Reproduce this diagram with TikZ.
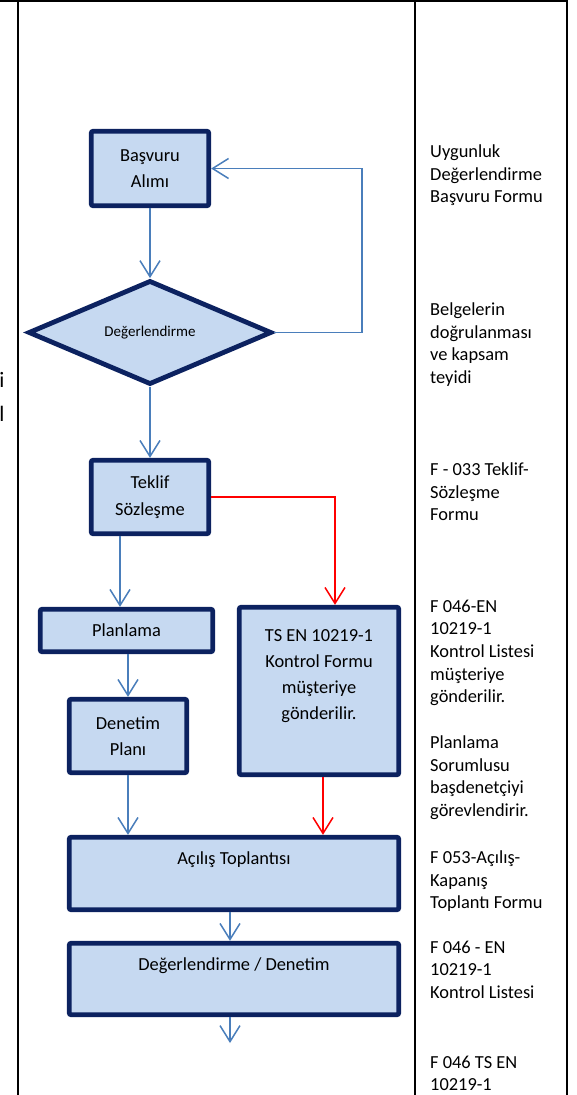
\documentclass[tikz,border=0pt]{standalone}
\usepackage{fontspec}
\setmainfont{Carlito}
\usepackage{xcolor}
\usetikzlibrary{shapes.geometric,arrows.meta,calc}
\definecolor{kenar}{HTML}{0C2260}
\definecolor{dolgu}{HTML}{C6D9F1}
\definecolor{okmavi}{HTML}{4A7EBB}
\begin{document}
\begin{tikzpicture}[x=1pt,y=-1pt,
 bx/.style={draw=kenar,line width=4.8pt,rounded corners=2pt,fill=dolgu,inner sep=0pt,align=center,font=\fontsize{18.4}{26.5}\selectfont},
 dm/.style={diamond,draw=kenar,line width=4.8pt,fill=dolgu,inner sep=0pt,font=\fontsize{15}{18}\selectfont},
 bt/.style={inner sep=0pt,align=center,font=\fontsize{18.4}{26}\selectfont},
 fl/.style={draw=okmavi,line width=1.5pt,-{Straight Barb[length=16pt,width=20pt]}},
 rf/.style={fl,draw=red},
 nt/.style={anchor=north west,inner sep=0pt,align=left,font=\fontsize{18.4}{22.7}\selectfont}]
\useasboundingbox (0,0) rectangle (576,1095);
% tablo cizgileri
\draw[line width=2pt] (0,1) -- (567,1);
\draw[line width=2pt] (18,0) -- (18,1095);
\draw[line width=2pt] (415,0) -- (415,1095);
\draw[line width=2pt] (567,0) -- (567,1095);
\node[anchor=base east,inner sep=0pt,font=\fontsize{22}{26}\selectfont] (k1) at (4.5,387) {i};
\node[anchor=base east,inner sep=0pt,font=\fontsize{22}{26}\selectfont] (k2) at (4.5,421) {l};
% akis
\node[bx,minimum width=117.5pt,minimum height=74.5pt] (basvuru) at (150,168.5) {Başvuru\\Alımı};
\node[dm,minimum width=243.5pt,minimum height=94pt] (deger) at (150,332.5) {Değerlendirme};
\node[bx,minimum width=117.5pt,minimum height=73.5pt] (teklif) at (150,497) {Teklif\\Sözleşme};
\node[bx,minimum width=172.5pt,minimum height=42.5pt] (planlama) at (126.5,630.5) {Planlama};
\node[bx,minimum width=117.5pt,minimum height=73.5pt] (denplan) at (128,736) {Denetim\\Planı};
\node[bx,minimum width=159.5pt,minimum height=167.5pt] (tsen) at (319,691) {};
\node[bt] (tsenyazi) at (319,676) {TS EN 10219-1\\Kontrol Formu\\müşteriye\\gönderilir.};
\node[bx,minimum width=329.5pt,minimum height=72.5pt] (acilis) at (234,873.5) {};
\node[bt] (acilisyazi) at (234,860) {Açılış Toplantısı};
\node[bx,minimum width=329.5pt,minimum height=71.5pt] (degden) at (234,979) {};
\node[bt] (degdenyazi) at (234,966) {Değerlendirme / Denetim};
\coordinate (t1) at ([xshift=-30pt]teklif.south);
\coordinate (t2) at ([xshift=4pt]tsen.south);
\coordinate (son) at (230,1043);
\draw[fl] (basvuru.south) -- (deger.north);
\draw[fl] (deger.east) -| ($(basvuru.east)+(151,0)$) -- (basvuru.east);
\draw[fl] (deger.south) -- (teklif.north);
\draw[fl] (t1) -- (t1 |- planlama.north);
\draw[rf] (teklif.east) -| ([xshift=16pt]tsen.north);
\draw[fl] (planlama.south -| denplan.north) -- (denplan.north);
\draw[fl] (denplan.south) -- (denplan.south |- acilis.north);
\draw[rf] (t2) -- (t2 |- acilis.north);
\draw[fl] ([xshift=-4pt]acilis.south) -- ([xshift=-4pt]degden.north);
\draw[fl] (degden.south -| son) -- (son);
% sag sutun
\node[nt] (n1) at (430,144.5) {Uygunluk\\Değerlendirme\\Başvuru Formu};
\node[nt] (n2) at (430,302.5) {Belgelerin\\doğrulanması\\ve kapsam\\teyidi};
\node[nt] (n3) at (430,462.5) {F - 033 Teklif-\\Sözleşme\\Formu};
\node[nt] (n4) at (430,599.5) {F 046-EN\\10219-1\\Kontrol Listesi\\müşteriye\\gönderilir.\\[22.7pt]Planlama\\Sorumlusu\\başdenetçiyi\\görevlendirir.};
\node[nt] (n5) at (430,850.5) {F 053-Açılış-\\Kapanış\\Toplantı Formu};
\node[nt] (n6) at (430,940.5) {F 046 - EN\\10219-1\\Kontrol Listesi};
\node[nt] (n7) at (430,1055.5) {F 046 TS EN\\10219-1};
\end{tikzpicture}
\end{document}
